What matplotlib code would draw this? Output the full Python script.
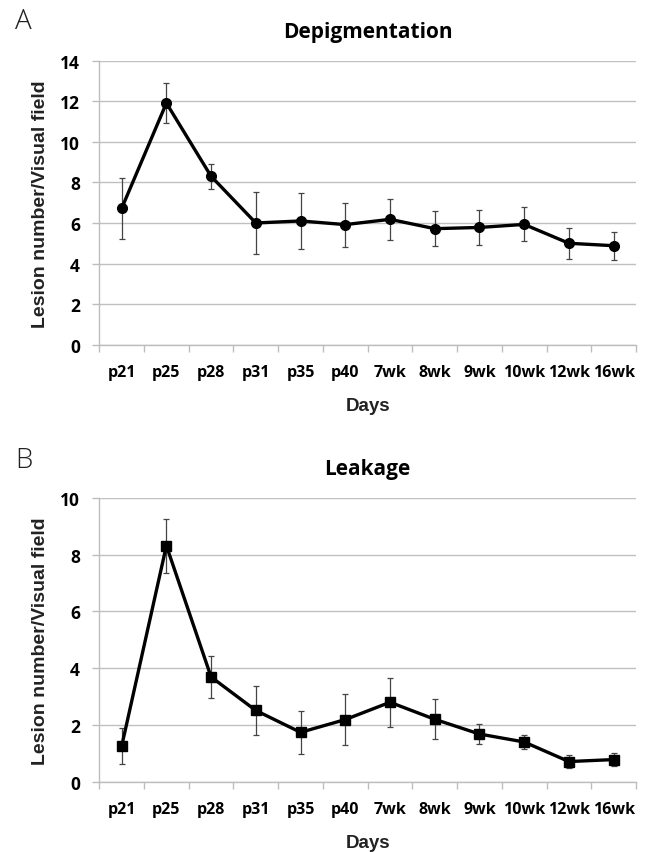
import matplotlib
matplotlib.use("Agg")
import matplotlib.pyplot as plt
import numpy as np

plt.rcParams['font.family'] = ['Open Sans', 'DejaVu Sans']

categories = ["p21", "p25", "p28", "p31", "p35", "p40", "7wk", "8wk", "9wk", "10wk", "12wk", "16wk"]

depig_mean = [6.72, 11.91, 8.30, 6.00, 6.10, 5.92, 6.18, 5.72, 5.78, 5.93, 5.00, 4.88]
depig_err = [1.50, 0.97, 0.62, 1.55, 1.40, 1.08, 1.00, 0.87, 0.86, 0.84, 0.77, 0.68]

leak_mean = [1.25, 8.32, 3.69, 2.51, 1.74, 2.19, 2.80, 2.20, 1.68, 1.40, 0.71, 0.78]
leak_err = [0.63, 0.95, 0.75, 0.85, 0.76, 0.90, 0.86, 0.70, 0.36, 0.25, 0.24, 0.23]

W, H = 645, 853
fig = plt.figure(figsize=(W / 100, H / 100), dpi=100)

def px_axes(left, top, right, bottom):
    return fig.add_axes([left / W, 1 - bottom / H, (right - left) / W, (bottom - top) / H])

axA = px_axes(99.3, 61.7, 636, 345.7)
axB = px_axes(99.3, 499, 636, 782.7)

def style(ax, mean, err, ymax, marker, title, letter, letter_y):
    x = np.arange(len(categories))
    ax.errorbar(x, mean, yerr=err, color='black', lw=2.4, marker=marker,
                ms=7 if marker == 'o' else 6.5, ecolor='#444444', elinewidth=0.9,
                capsize=2.5, capthick=0.9, zorder=3)
    ax.set_xlim(-0.5, len(categories) - 0.5)
    ax.set_ylim(0, ymax)
    ax.set_yticks(np.arange(0, ymax + 0.1, 2))
    ax.yaxis.grid(True, color='#c0c0c0', lw=1.0)
    ax.set_axisbelow(True)
    for s in ['top', 'right']:
        ax.spines[s].set_visible(False)
    for s in ['left', 'bottom']:
        ax.spines[s].set_color('#bdbdbd')
        ax.spines[s].set_linewidth(1.0)
    ax.set_xticks(x)
    ax.set_xticklabels(categories)
    ax.set_xticks(np.arange(-0.5, len(categories), 1), minor=True)
    ax.tick_params(axis='x', which='major', length=0, pad=14, labelsize=11.5)
    ax.tick_params(axis='x', which='minor', length=5, color='#bdbdbd', width=1.0)
    ax.tick_params(axis='y', length=5, color='#bdbdbd', width=1.0, labelsize=12.5, pad=9)
    for lab in ax.get_xticklabels() + ax.get_yticklabels():
        lab.set_fontweight('bold')
    ax.set_xlabel("Days", fontsize=13.5, fontweight='bold', color='#222222',
                  family=['Liberation Sans', 'DejaVu Sans'], labelpad=12)
    ax.set_ylabel("Lesion number/Visual field", fontsize=14, fontweight='bold', color='#222222',
                  family=['Liberation Sans', 'DejaVu Sans'], labelpad=8)
    ax.set_title(title, fontsize=15, fontweight='bold', pad=17)
    fig.text(15 / W, 1 - letter_y / H, letter, fontsize=20, ha='left', va='center',
             color='#222222', fontweight='light')

style(axA, depig_mean, depig_err, 14, 'o', "Depigmentation", "A", 22)
style(axB, leak_mean, leak_err, 10, 's', "Leakage", "B", 461)

fig.savefig("out.png", dpi=100)
